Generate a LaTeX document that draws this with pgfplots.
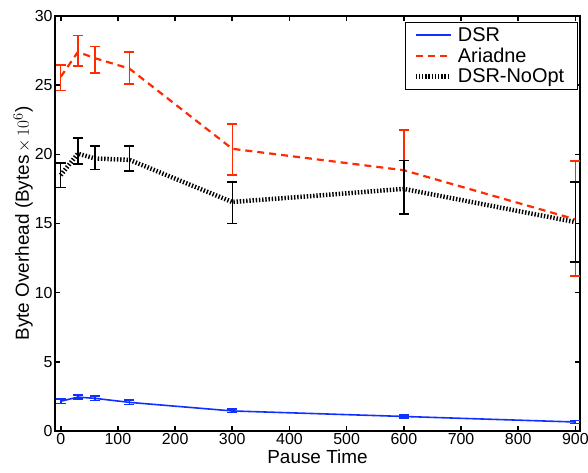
\documentclass[border=0pt]{standalone}
\usepackage{fontspec}
\setmainfont{Liberation Sans}
\usepackage{pgfplots}
\pgfplotsset{compat=1.18}
\definecolor{dsrblue}{HTML}{1030FF}
\definecolor{ariared}{HTML}{FF2A00}

\begin{document}
\begin{tikzpicture}
  \begin{axis}[
    scale only axis,
    width=525bp, height=415bp,
    xmin=-10, xmax=908,
    ymin=0, ymax=30,
    xtick={0,100,...,900},
    ytick={0,5,...,30},
    tick align=inside,
    major tick length=5bp,
    tick style={black, line width=1.6pt},
    axis line style={line width=1.6pt},
    tick label style={font=\fontsize{16}{18}\selectfont},
    xticklabel style={yshift=1bp},
    yticklabel style={xshift=1bp},
    /pgf/number format/assume math mode=true,
    xlabel={Pause Time},
    ylabel={Byte Overhead (Bytes$\,\times\,10^6$)},
    label style={font=\fontsize{19}{21}\selectfont},
    xlabel style={yshift=2bp},
    ylabel style={yshift=-5bp},
    legend style={at={(0.996,0.986)}, anchor=north east,
      font=\fontsize{20}{22}\selectfont, draw=black, line width=1.4pt,
      inner xsep=8bp, inner ysep=4bp, row sep=3pt,
      nodes={inner xsep=5bp, inner ysep=1bp}},
    legend cell align=left,
    every axis plot/.append style={mark=none},
    error bars/error mark options={rotate=90, mark size=5bp, line width=1.6pt},
  ]
  % DSR
  \addplot[dsrblue, line width=1.6pt,
    legend image code/.code={\draw[dsrblue, line width=1.8pt] (0bp,0bp) -- (35bp,0bp);},
    error bars/.cd, y dir=both, y explicit,
    error bar style={line width=1.6pt, dsrblue}]
    coordinates {
      (0,2.15) +- (0,0.15)
      (30,2.45) +- (0,0.15)
      (60,2.36) +- (0,0.15)
      (120,2.07) +- (0,0.15)
      (300,1.45) +- (0,0.12)
      (600,1.05) +- (0,0.12)
      (900,0.65) +- (0,0.12)
    };
  % Ariadne
  \addplot[ariared, line width=2.2pt, dash pattern=on 7bp off 5bp,
    legend image code/.code={\draw[ariared, line width=2.2pt, dash pattern=on 7bp off 5bp] (0bp,0bp) -- (35bp,0bp);},
    error bars/.cd, y dir=both, y explicit,
    error bar style={line width=1.5pt, ariared, solid}]
    coordinates {
      (0,25.6) += (0,0.85) -= (0,1.0)
      (30,27.4) += (0,1.2) -= (0,1.0)
      (60,26.95) += (0,0.85) -= (0,1.05)
      (120,26.2) += (0,1.2) -= (0,1.1)
      (300,20.4) += (0,1.8) -= (0,1.9)
      (600,18.85) += (0,2.9) -= (0,3.15)
      (900,15.3) += (0,4.2) -= (0,4.1)
    };
  % DSR-NoOpt
  \addplot[black, line width=4.5pt, dash pattern=on 1.4bp off 1.8bp,
    legend image code/.code={\draw[black, line width=4.5pt, dash pattern=on 1.4bp off 1.8bp] (0bp,0bp) -- (35bp,0bp);},
    error bars/.cd, y dir=both, y explicit,
    error bar style={line width=1.5pt, black, solid}]
    coordinates {
      (0,18.5) += (0,0.86) -= (0,0.9)
      (30,20.05) += (0,1.15) -= (0,0.75)
      (60,19.7) += (0,0.9) -= (0,0.8)
      (120,19.6) += (0,1.0) -= (0,0.8)
      (300,16.55) += (0,1.45) -= (0,1.55)
      (600,17.5) += (0,2.05) -= (0,1.8)
      (900,15.1) += (0,2.9) -= (0,2.9)
    };
  \legend{DSR, Ariadne, DSR-NoOpt}
  \coordinate (bl) at (rel axis cs:0,0);
  \coordinate (tr) at (rel axis cs:1,1);
  \end{axis}
  \pgfresetboundingbox
  \path ([shift={(-55bp,-42bp)}]bl) rectangle ([shift={(8bp,16bp)}]tr);
\end{tikzpicture}
\end{document}
